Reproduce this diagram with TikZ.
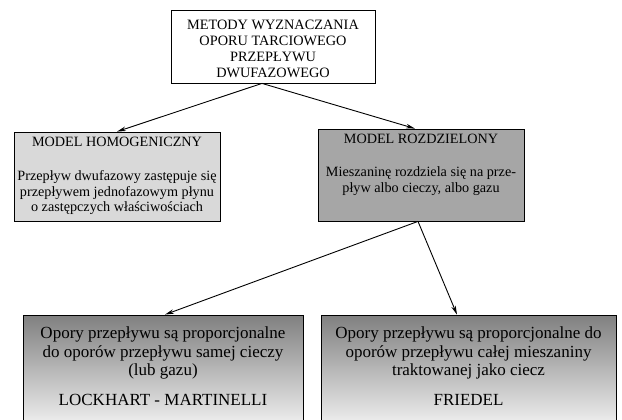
\documentclass[tikz,border=0pt]{standalone}
\usepackage{fontspec}
\setmainfont{Liberation Serif}
\usetikzlibrary{arrows.meta}
\begin{document}
\begin{tikzpicture}[x=1pt,y=-1pt,
  box/.style={draw=black,line width=0.8pt,inner sep=0pt},
  txt/.style={align=center,inner sep=0pt,anchor=north},
  arr/.style={line width=0.9pt,-{Stealth[length=9pt,width=4.5pt]}}]
\useasboundingbox (0,0) rectangle (622,420);
\clip (0,0) rectangle (622,420);
\fill[white] (0,0) rectangle (622,420);
% top box
\node[box,fill=white,minimum width=204pt,minimum height=73pt] (top) at (273,46.5) {};
\node[txt,font=\fontsize{14.3}{16}\selectfont] (toptxt) at ([yshift=-10.5pt]top.north) {METODY WYZNACZANIA\\OPORU TARCIOWEGO\\PRZEPŁYWU\\DWUFAZOWEGO};
% homogeneous
\node[box,fill=black!15,minimum width=206pt,minimum height=89pt] (homo) at (117,176.5) {};
\node[txt,font=\fontsize{14.2}{15.7}\selectfont] (homotxt) at ([yshift=-5.5pt]homo.north) {MODEL HOMOGENICZNY\\[18pt]Przepływ dwufazowy zastępuje się\\przepływem jednofazowym płynu\\o zastępczych właściwościach};
% separated
\node[box,fill=black!35,minimum width=206pt,minimum height=92pt] (rozd) at (421,175) {};
\node[txt,font=\fontsize{14.2}{15.7}\selectfont] (rozdtxt) at ([yshift=-5.5pt]rozd.north) {MODEL ROZDZIELONY\\[17.5pt]Mieszaninę rozdziela się na prze-\\pływ albo cieczy, albo gazu};
% bottom boxes
\node[box,top color=black!50,bottom color=white,minimum width=280pt,minimum height=125pt] (lm) at (163,377.5) {};
\node[txt,font=\fontsize{17}{18.5}\selectfont] (lmtxt) at ([yshift=-12pt]lm.north) {Opory przepływu są proporcjonalne\\do oporów przepływu samej cieczy\\(lub gazu)\\[11.5pt]LOCKHART - MARTINELLI};
\node[box,top color=black!50,bottom color=white,minimum width=295pt,minimum height=125pt] (fr) at (468.5,377.5) {};
\node[txt,font=\fontsize{17}{18.5}\selectfont] (frtxt) at ([yshift=-12pt]fr.north) {Opory przepływu są proporcjonalne do\\oporów przepływu całej mieszaniny\\traktowanej jako ciecz\\[11.5pt]FRIEDEL};
% connectors
\draw[arr] ([xshift=-11pt]top.south) -- (homo.north);
\draw[arr] ([xshift=-11pt]top.south) -- ([xshift=-6pt]rozd.north);
\draw[arr] ([xshift=-3pt]rozd.south) -- ([xshift=2pt]lm.north);
\draw[arr] ([xshift=-3pt]rozd.south) -- ([xshift=-11.5pt]fr.north);
\end{tikzpicture}
\end{document}
